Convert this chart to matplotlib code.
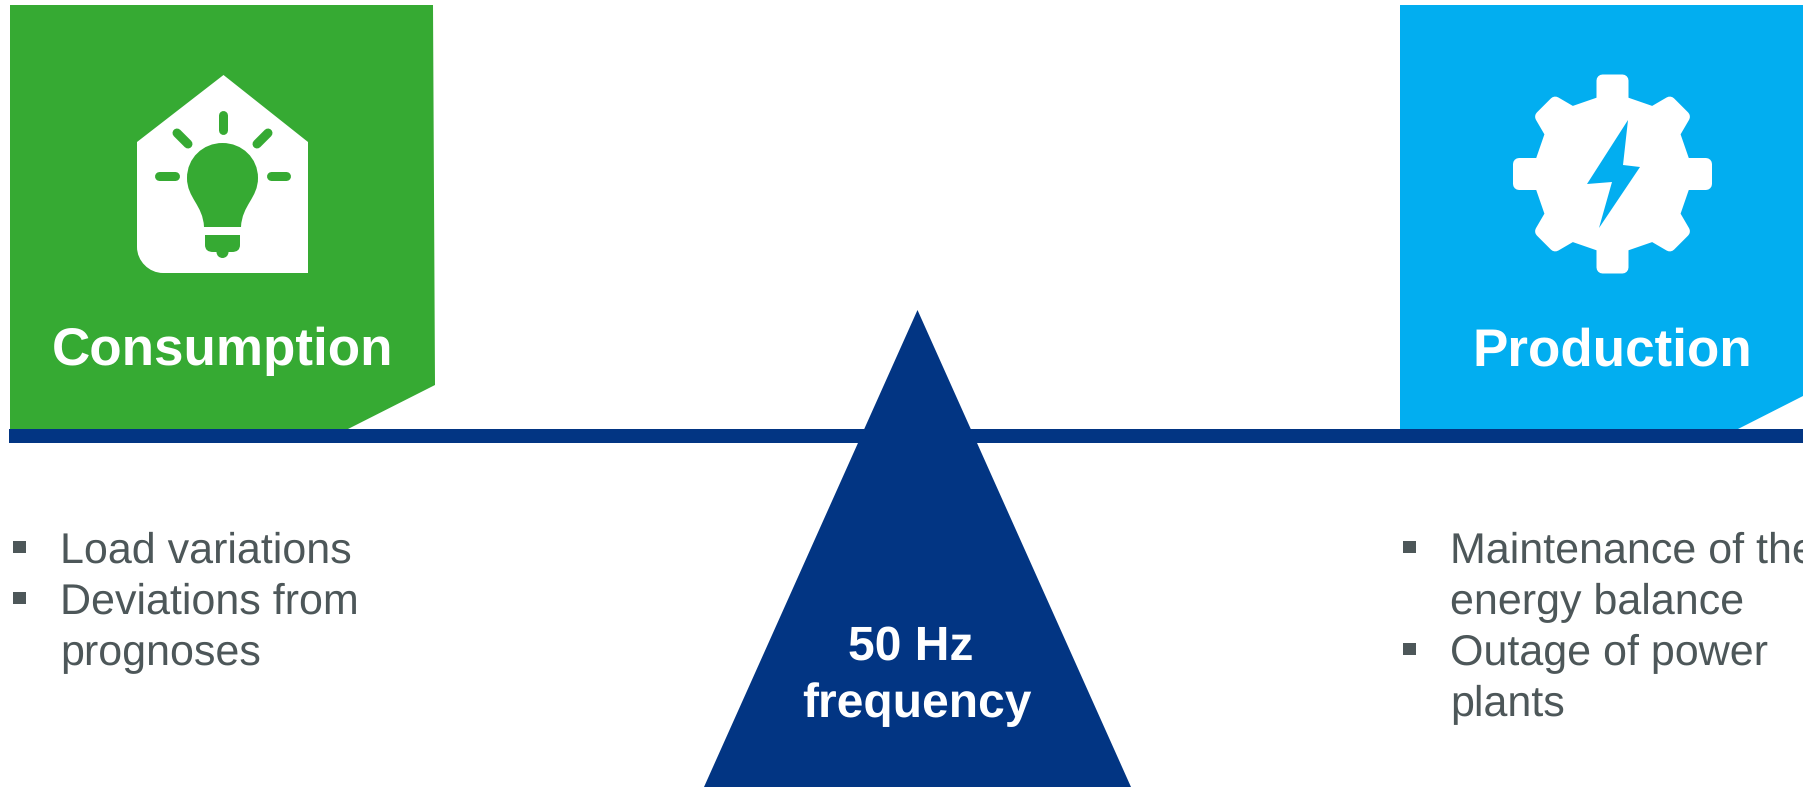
import numpy as np
import matplotlib
matplotlib.use("Agg")
import matplotlib.pyplot as plt
from matplotlib.patches import Polygon, Rectangle, PathPatch, Circle
from matplotlib.path import Path

plt.rcParams['font.family'] = ['Liberation Sans', 'DejaVu Sans']
plt.rcParams['text.hinting'] = 'none'
plt.rcParams['text.hinting_factor'] = 1

GREEN = '#36AA33'
BLUE = '#02AEF0'
NAVY = '#023583'
GREY = '#4D5759'

titles = ['Consumption', 'Production']
center_lines = ['50 Hz', 'frequency']
left_lines = ['Load variations', 'Deviations from', 'prognoses']
left_bullets = [True, True, False]
right_lines = ['Maintenance of the', 'energy balance', 'Outage of power', 'plants']
right_bullets = [True, False, True, False]

fig = plt.figure(figsize=(18.03, 7.87), dpi=100)
ax = fig.add_axes([0, 0, 1, 1])
ax.set_xlim(0, 1803)
ax.set_ylim(787, 0)
ax.axis('off')


def poly(pts, color, z=2):
    ax.add_patch(Polygon(pts, closed=True, fc=color, ec='none', zorder=z))


def stroke(x0, y0, x1, y1, color, w=9):
    ax.plot([x0, x1], [y0, y1], color=color, lw=w * 0.72, solid_capstyle='round', zorder=5)


# panels
poly([(10, 5), (433, 5), (435, 385), (348, 429), (10, 429)], GREEN)
poly([(1400, 5), (1803, 5), (1803, 396), (1738, 429), (1400, 429)], BLUE)

# beam and triangle
ax.add_patch(Rectangle((9, 429), 1794, 14, fc=NAVY, ec='none', zorder=3))
poly([(917.5, 310), (704, 787), (1131, 787)], NAVY, 4)

# house
house = Path([(223.5, 75), (308, 142), (308, 273), (163, 273), (149, 273), (137, 261),
              (137, 247), (137, 142), (223.5, 75)],
             [Path.MOVETO, Path.LINETO, Path.LINETO, Path.LINETO, Path.CURVE4, Path.CURVE4,
              Path.CURVE4, Path.LINETO, Path.CLOSEPOLY])
ax.add_patch(PathPatch(house, fc='white', ec='none', zorder=4))

# bulb
bulb = Path([(204, 227), (203, 205), (187, 198), (187, 178), (187, 158), (203, 143),
             (222.5, 143), (242, 143), (258, 158), (258, 178), (258, 198), (242, 205),
             (241, 227), (204, 227)],
            [Path.MOVETO, Path.CURVE4, Path.CURVE4, Path.CURVE4, Path.CURVE4, Path.CURVE4,
             Path.CURVE4, Path.CURVE4, Path.CURVE4, Path.CURVE4, Path.CURVE4, Path.CURVE4,
             Path.CURVE4, Path.CLOSEPOLY])
ax.add_patch(PathPatch(bulb, fc=GREEN, ec='none', zorder=5))
base = Path([(205, 235), (240, 235), (240, 245), (240, 252), (232, 252), (213, 252),
             (205, 252), (205, 245), (205, 235)],
            [Path.MOVETO, Path.LINETO, Path.LINETO, Path.CURVE3, Path.CURVE3, Path.LINETO,
             Path.CURVE3, Path.CURVE3, Path.CLOSEPOLY])
ax.add_patch(PathPatch(base, fc=GREEN, ec='none', zorder=5))
ax.add_patch(Circle((222.5, 252), 6, fc=GREEN, ec='none', zorder=5))
stroke(222.5, 114.5, 222.5, 129.5, GREEN)
stroke(177, 133, 188, 144, GREEN)
stroke(268, 133, 257, 144, GREEN)
stroke(159, 176, 175, 176, GREEN)
stroke(271, 176, 286, 176, GREEN)

# gear, outline drawn thick with round joins to soften the corners
cx, cy = 1612.5, 174
gear = []
for k in range(8):
    a = np.radians(k * 45)
    if k % 2 == 0:
        tooth = [(72, -10), (93.5, -10), (93.5, 10), (72, 10)]
    else:
        tooth = [(72, -15), (91, -10), (91, 10), (72, 15)]
    for r, w in tooth:
        gear.append((cx + r * np.cos(a) - w * np.sin(a), cy + r * np.sin(a) + w * np.cos(a)))
ax.add_patch(Polygon(gear, closed=True, fc='white', ec='white', lw=12 * 0.72,
                     joinstyle='round', zorder=4))
poly([(1628, 120), (1623, 165), (1640, 167), (1599, 228), (1612, 182), (1587, 184)], BLUE, 5)

# titles
ax.text(223, 365, titles[0], color='white', fontsize=38.5, fontweight='bold', ha='center', va='baseline', zorder=6)
ax.text(1612.5, 365, titles[1], color='white', fontsize=38.5, fontweight='bold', ha='center', va='baseline', zorder=6)
ax.text(911, 659.5, center_lines[0], color='white', fontsize=34.5, fontweight='bold', ha='center', va='baseline', zorder=6)
ax.text(917, 717, center_lines[1], color='white', fontsize=34.5, fontweight='bold', ha='center', va='baseline', zorder=6)


def bullets(lines, flags, x_bullet, x_text, y_first):
    for i, (line, flag) in enumerate(zip(lines, flags)):
        y = y_first + i * 51
        ax.text(x_text, y, line, color=GREY, fontsize=30.7, ha='left', va='baseline', zorder=6)
        if flag:
            ax.add_patch(Rectangle((x_bullet, y - 22), 13, 12, fc=GREY, ec='none', zorder=6))


bullets(left_lines, left_bullets, 13, 60, 563)
bullets(right_lines, right_bullets, 1403, 1450.5, 563)

fig.savefig('out.png', dpi=100, facecolor='white')
